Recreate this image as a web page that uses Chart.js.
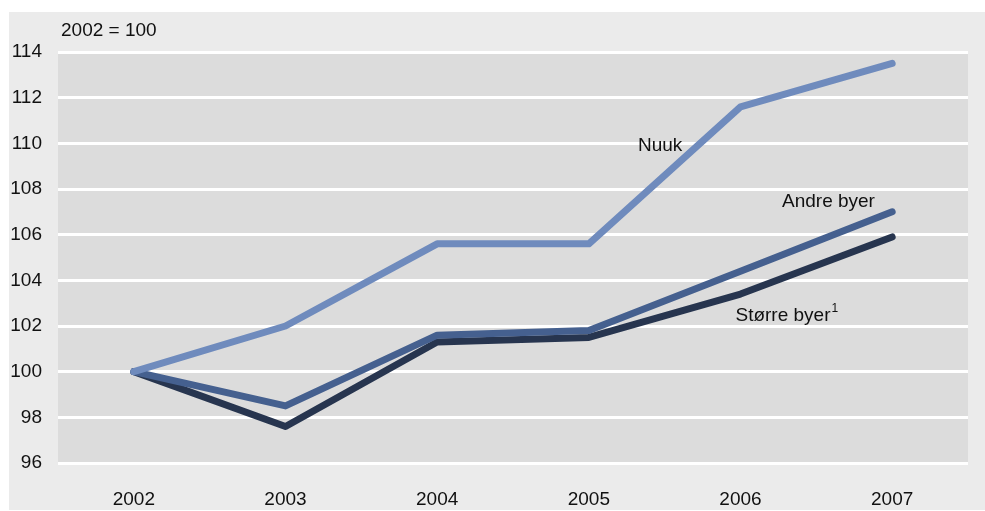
<!DOCTYPE html>
<html>
<head>
<meta charset="utf-8">
<script src="https://cdn.jsdelivr.net/npm/chart.js@4"></script>
<style>
  html, body { margin: 0; padding: 0; background: #ffffff; }
  #wrap { width: 985px; height: 511px; position: relative; }
</style>
</head>
<body>
<div id="wrap"><canvas id="myChart" width="985" height="511"></canvas></div>
<script>
// data
var years = ['2002', '2003', '2004', '2005', '2006', '2007'];
var nuuk = [100, 102.0, 105.6, 105.6, 111.6, 113.5];
var andreByer = [100, 98.5, 101.6, 101.8, 104.4, 107.0];
var storreByer = [100, 97.6, 101.3, 101.5, 103.4, 105.9];
var yTicks = [96, 98, 100, 102, 104, 106, 108, 110, 112, 114];

// line labels, placed at data coordinates (x = category index)
var lineLabels = [
    { text: 'Nuuk', x: 3.47, y: 109.9 },
    { text: 'Andre byer', x: 4.58, y: 107.45 },
    { text: 'Større byer', sup: '1', x: 4.28, y: 102.45 }
];

var FONT = '"Liberation Sans", Arial, sans-serif';

// backgrounds + labels
var decor = {
    id: 'decor',
    beforeDraw: function(chart) {
        var c = chart.ctx, a = chart.chartArea;
        c.save();
        c.fillStyle = '#ebebeb';
        c.fillRect(9, 12, chart.width - 9, chart.height - 13);
        c.fillStyle = '#dcdcdc';
        c.fillRect(a.left, a.top, a.right - a.left, a.bottom - a.top);
        c.fillStyle = '#111';
        c.font = '19px ' + FONT;
        c.textBaseline = 'middle';
        c.textAlign = 'left';
        c.fillText('2002 = 100', 61, 31);
        c.restore();
    },
    afterDatasetsDraw: function(chart) {
        var c = chart.ctx;
        var xs = chart.scales.x, ys = chart.scales.y;
        c.save();
        c.fillStyle = '#111';
        c.textBaseline = 'middle';
        lineLabels.forEach(function(l) {
            var px = xs.getPixelForValue(0) + (xs.getPixelForValue(1) - xs.getPixelForValue(0)) * l.x;
            var py = ys.getPixelForValue(l.y);
            c.font = '19px ' + FONT;
            c.textAlign = 'center';
            c.fillText(l.text, px, py);
            if (l.sup) {
                var w = c.measureText(l.text).width;
                c.font = '12px ' + FONT;
                c.textAlign = 'left';
                c.fillText(l.sup, px + w / 2 + 1, py - 7);
            }
        });
        c.restore();
    }
};

var ctx = document.getElementById('myChart').getContext('2d');
var myChart = new Chart(ctx, {
    type: 'line',
    data: {
        labels: years,
        datasets: [{
            label: 'Nuuk',
            data: nuuk,
            borderColor: '#6f8bbd',
            borderWidth: 7
        }, {
            label: 'Andre byer',
            data: andreByer,
            borderColor: '#45608f',
            borderWidth: 7
        }, {
            label: 'Større byer',
            data: storreByer,
            borderColor: '#27354f',
            borderWidth: 7
        }]
    },
    options: {
        responsive: false,
        animation: false,
        elements: {
            point: { radius: 0 },
            line: { tension: 0, borderCapStyle: 'round', borderJoinStyle: 'round' }
        },
        layout: { padding: { left: 9, top: 52, right: 17, bottom: 1 } },
        plugins: {
            legend: { display: false },
            tooltip: { enabled: false }
        },
        scales: {
            x: {
                offset: true,
                grid: { display: false },
                border: { display: false },
                ticks: { color: '#111', font: { family: FONT, size: 19 }, padding: 17, maxRotation: 0 },
                afterFit: function(s) { s.height = 47; }
            },
            y: {
                min: 96,
                max: 114,
                afterBuildTicks: function(s) { s.ticks = yTicks.map(function(v) { return { value: v }; }); },
                grid: { color: '#ffffff', lineWidth: 3, drawTicks: false },
                border: { display: false },
                ticks: { color: '#111', font: { family: FONT, size: 19 }, padding: 16 },
                afterFit: function(s) { s.width = 49; }
            }
        }
    },
    plugins: [decor]
});
</script>
</body>
</html>
